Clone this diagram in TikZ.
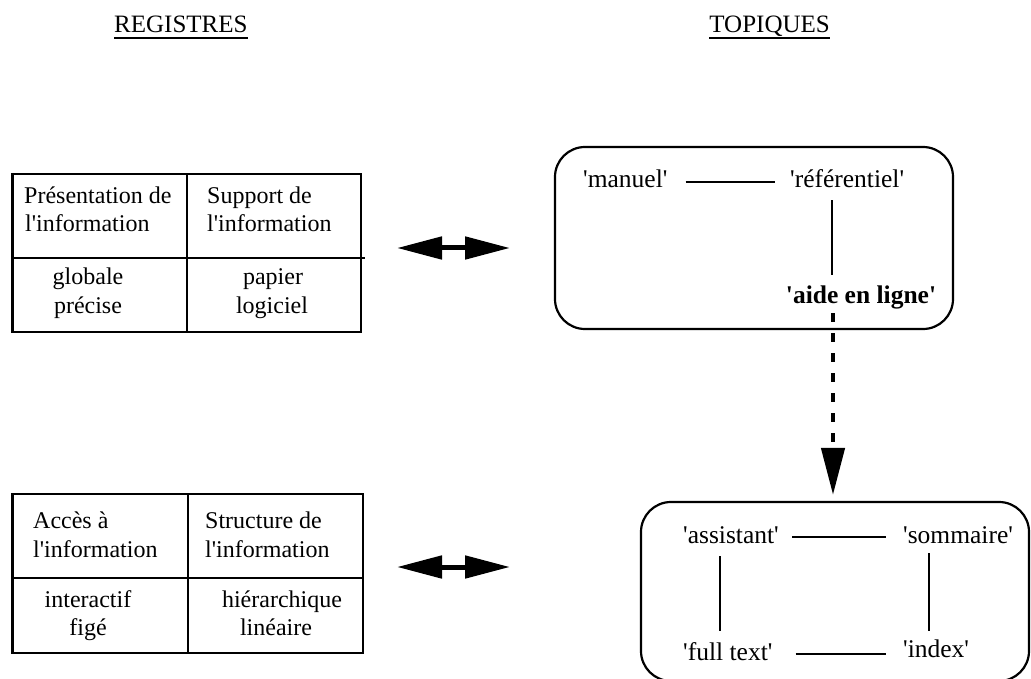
\documentclass[tikz,border=0pt]{standalone}
\usepackage{fontspec}
\setmainfont{Liberation Serif}
\usetikzlibrary{arrows.meta}
\newcommand\sq{\textquotesingle}
\begin{document}
\begin{tikzpicture}[x=1pt,y=-1pt,
  tbl/.style={line width=2pt, line cap=rect},
  tblleft/.style={line width=3pt},
  cell/.style={inner sep=0pt, font=\fontsize{24}{27}\selectfont},
  topic/.style={inner sep=0pt, text height=17pt, text depth=5pt, font=\fontsize{25.5}{28}\selectfont},
  head/.style={inner sep=0pt, font=\fontsize{25}{28}\selectfont},
  link/.style={line width=2pt},
  roundbox/.style={draw, line width=2.2pt, rounded corners=30pt, inner sep=0pt},
  dbl/.style={line width=5pt, {Triangle[length=45pt,width=22pt]}-{Triangle[length=45pt,width=22pt]}},
  dasharrow/.style={line width=4.5pt, dash pattern=on 9pt off 11pt, -{Triangle[length=47pt,width=23pt]}}
]
\useasboundingbox (0,0) rectangle (1031,679);

% headings
\node[head, anchor=base west] (reg) at (114,33) {REGISTRES};
\node[head, anchor=base east] (top) at (830,33) {TOPIQUES};
\draw[line width=1.5pt] ([yshift=-5pt]reg.base west) -- ([yshift=-5pt]reg.base east);
\draw[line width=1.5pt] ([yshift=-5pt]top.base west) -- ([yshift=-5pt]top.base east);

% table 1
\draw[tbl] (12,174) -- (361,174);
\draw[tbl] (12,258) -- (364,258);
\draw[tbl] (13,332) -- (361,332);
\draw[tbl] (187,174) -- (187,332);
\draw[tbl] (361,174) -- (361,332);
\draw[tblleft] (12,173) -- (12,333);
\node[cell, anchor=base west] (t1a) at (24,204) {Présentation de};
\node[cell, anchor=base west] (t1b) at (25,232) {l\sq information};
\node[cell, anchor=base west] (t1c) at (207,204) {Support de};
\node[cell, anchor=base west] (t1d) at (207,232) {l\sq information};
\node[cell, anchor=base] (t1e) at (88,284) {globale};
\node[cell, anchor=base] (t1f) at (88,313) {précise};
\node[cell, anchor=base] (t1g) at (273,284) {papier};
\node[cell, anchor=base] (t1h) at (272,313) {logiciel};

% table 2
\draw[tbl] (12,494) -- (363,494);
\draw[tbl] (12,578) -- (363,578);
\draw[tbl] (13,653) -- (363,653);
\draw[tbl] (188,494) -- (188,653);
\draw[tbl] (363,494) -- (363,653);
\draw[tblleft] (12,493) -- (12,654);
\node[cell, anchor=base west] (t2a) at (33,528) {Accès à};
\node[cell, anchor=base west] (t2b) at (33,557) {l\sq information};
\node[cell, anchor=base west] (t2c) at (205,528) {Structure de};
\node[cell, anchor=base west] (t2d) at (205,557) {l\sq information};
\node[cell, anchor=base] (t2e) at (88,607) {interactif};
\node[cell, anchor=base] (t2f) at (88,635) {figé};
\node[cell, anchor=base] (t2g) at (282,607) {hiérarchique};
\node[cell, anchor=base] (t2h) at (276,635) {linéaire};

% double arrows
\coordinate (a1l) at (397,248);
\coordinate (a1r) at (510,248);
\coordinate (a2l) at (397,567);
\coordinate (a2r) at (510,567);
\draw[dbl] (a1l) -- (a1r);
\draw[dbl] (a2l) -- (a2r);

% top box
\node[roundbox, minimum width=398pt, minimum height=182pt] (box1) at (754,238) {};
\node[topic, anchor=base west] (manuel) at (583,188) {\sq manuel\sq};
\node[topic, anchor=base west] (ref) at (790,188) {\sq référentiel\sq};
\node[topic, anchor=base] (aide) at (861,303) {\bfseries \sq aide en ligne\sq};
\draw[link, shorten <=18pt, shorten >=15pt] (manuel.east) -- (ref.west);
\draw[link, shorten <=7pt, shorten >=11pt] ([xshift=-15pt]ref.south) -- ([xshift=-15pt]ref.south |- aide.north);

% bottom box
\node[roundbox, minimum width=388pt, minimum height=179pt] (box2) at (835,591.5) {};
\node[topic, anchor=base west] (assist) at (683,543) {\sq assistant\sq};
\node[topic, anchor=base west] (somm) at (903,543) {\sq sommaire\sq};
\node[topic, anchor=base west] (full) at (683,660) {\sq full text\sq};
\node[topic, anchor=base west] (index) at (903,657) {\sq index\sq};
\draw[link, shorten <=13pt, shorten >=17pt] (assist.east) -- (somm.west);
\draw[link, shorten <=23pt, shorten >=17pt] (full.east) -- (full.east -| index.west);
\draw[link, shorten <=8pt, shorten >=12pt] ([xshift=-11pt]assist.south) -- ([xshift=-11pt]assist.south |- full.north);
\draw[link, shorten <=5pt, shorten >=9pt] ([xshift=-29pt]somm.south) -- ([xshift=-29pt]somm.south |- index.north);

% dashed arrow
\coordinate (dtop) at (833,313);
\draw[dasharrow, shorten >=6pt] (dtop) -- (dtop |- box2.north);
\end{tikzpicture}
\end{document}
